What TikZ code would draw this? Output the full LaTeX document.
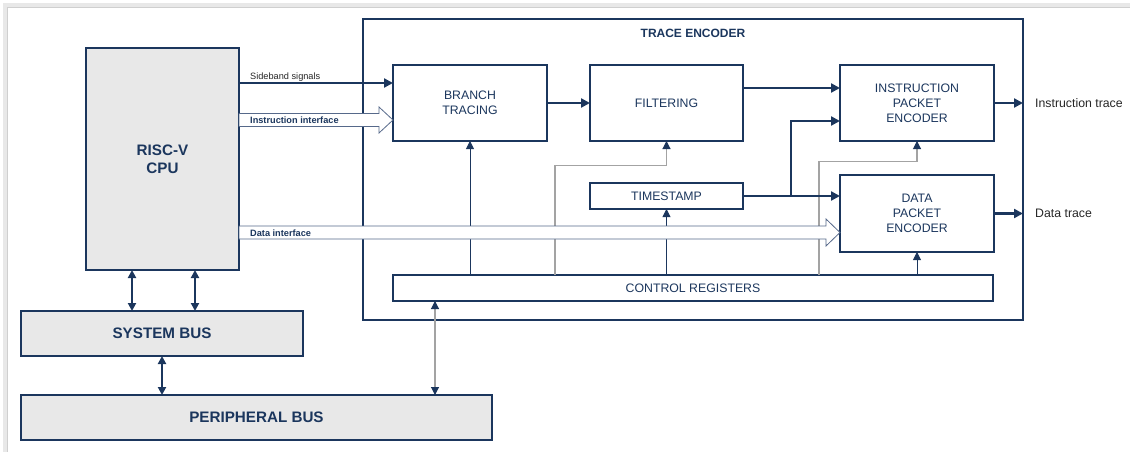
\documentclass[tikz,border=0pt]{standalone}
\usepackage{fontspec}
\setmainfont{Liberation Sans}
\usetikzlibrary{arrows.meta,calc}
\definecolor{navy}{HTML}{1B365D}
\definecolor{boxgray}{HTML}{E8E8E8}
\definecolor{wiregray}{HTML}{A3A3A3}
\definecolor{framegray}{HTML}{E8E8E8}
\definecolor{frameline}{HTML}{CFCFCF}
\definecolor{labelgray}{HTML}{262626}
\definecolor{arrowedge}{HTML}{56698A}

\begin{document}
\begin{tikzpicture}[x=1pt,y=-1pt,
  blk/.style={draw=navy, line width=1.8pt, fill=white, inner sep=0pt, outer sep=0pt,
    text=navy, align=center, font=\fontsize{12.3}{15}\selectfont},
  grayblk/.style={blk, fill=boxgray, font=\bfseries\fontsize{15.2}{18}\selectfont},
  thickarr/.style={draw=navy, line width=2.4pt, -{Triangle[length=9pt,width=9pt]}},
  thickdbl/.style={draw=navy, line width=2.4pt, {Triangle[length=8pt,width=8pt]}-{Triangle[length=8pt,width=8pt]}},
  thinarr/.style={draw=navy, line width=0.9pt, -{Triangle[length=8pt,width=8pt]}},
  grayarr/.style={draw=wiregray, line width=1.1pt, -{Triangle[length=8pt,width=8pt,color=navy]}},
  graydbl/.style={draw=wiregray, line width=1.1pt, {Triangle[length=8pt,width=8pt,color=navy]}-{Triangle[length=8pt,width=8pt,color=navy]}},
  blockarrow/.style={draw=arrowedge, line width=0.8pt, fill=white, line join=miter},
  smalllabel/.style={inner sep=0pt, anchor=base west, font=\fontsize{9.2}{11}\selectfont, text=labelgray},
  iflabel/.style={inner sep=0pt, anchor=base west, font=\bfseries\fontsize{9.2}{11}\selectfont, text=navy},
  outlabel/.style={inner sep=0pt, anchor=west, font=\fontsize{12.3}{15}\selectfont, text=labelgray}
]
\useasboundingbox (0,0) rectangle (1130,452);

% window edge
\fill[framegray] (3,3) rectangle (1130,7.5);
\fill[framegray] (3,3) rectangle (7.5,452);
\draw[frameline, line width=0.8pt] (1130,7.5) -- (7.5,7.5) -- (7.5,452);

% trace encoder frame
\node[draw=navy, line width=1.8pt, inner sep=0pt, outer sep=0pt,
      minimum width=660, minimum height=301] (te) at (693,169.5) {};
\node[font=\bfseries\fontsize{12}{14}\selectfont, text=navy] (tetitle) at (693,33) {TRACE ENCODER};

% CPU and buses
\node[grayblk, minimum width=153, minimum height=222] (cpu) at (162.5,159) {RISC-V\\CPU};
\node[grayblk, minimum width=282, minimum height=45] (sb) at (162,333.5) {SYSTEM BUS};
\node[grayblk, minimum width=471, minimum height=45] (pb) at (256.5,417.5) {PERIPHERAL BUS};

% encoder blocks
\node[blk, minimum width=154, minimum height=76] (bt) at (470,103) {BRANCH\\TRACING};
\node[blk, minimum width=153, minimum height=76] (fi) at (666.5,103) {FILTERING};
\node[blk, minimum width=154, minimum height=76] (ipe) at (917,103) {INSTRUCTION\\PACKET\\ENCODER};
\node[blk, minimum width=153, minimum height=26] (ts) at (666.5,196) {TIMESTAMP};
\node[blk, minimum width=154, minimum height=77] (dpe) at (917,213.5) {DATA\\PACKET\\ENCODER};
\node[blk, minimum width=600, minimum height=26] (cr) at (693,288) {CONTROL REGISTERS};

% control register outputs
\draw[thinarr] (bt.south |- cr.north) -- (bt.south);
\draw[grayarr] (cr.north -| 555,0) -- (555,165.5) -| (fi.south);
\draw[thinarr] (ts.south |- cr.north) -- (ts.south);
\draw[grayarr] (cr.north -| 819,0) -- (819,161.5) -| (ipe.south);
\draw[thinarr] (dpe.south |- cr.north) -- (dpe.south);
\draw[graydbl] (pb.north -| 435,0) -- (cr.south -| 435,0);

% interface block arrows, laid over the wires they cross
\filldraw[blockarrow] (cpu.east |- 0,113.5) -- (379,113.5) -- (379,107)
  -- (bt.west |- 0,120) -- (379,133) -- (379,126.5) -- (cpu.east |- 0,126.5) -- cycle;
\filldraw[blockarrow] (cpu.east |- 0,226) -- (826,226) -- (826,219)
  -- (dpe.west |- 0,232.5) -- (826,246) -- (826,239) -- (cpu.east |- 0,239) -- cycle;
\node[iflabel] (lblinstr) at (250,123.5) {Instruction interface};
\node[iflabel] (lbldata) at (250,236) {Data interface};

% trace data path
\draw[thickarr] (cpu.east |- 0,83) -- (bt.west |- 0,83);
\node[smalllabel] (lblside) at (250,79.5) {Sideband signals};
\draw[thickarr] (bt.east) -- (fi.west);
\draw[thickarr] (fi.east |- 0,88) -- (ipe.west |- 0,88);
\draw[thickarr] (ts.east) -- (ts.east -| dpe.west);
\coordinate (tsfork) at (791,196);
\draw[thickarr] (tsfork) |- (ipe.west |- 0,121);
\draw[thickarr] (ipe.east) -- (ipe.east -| te.east);
\draw[thickarr] (dpe.east) -- (dpe.east -| te.east);
\node[outlabel] (itrace) at (1035,103) {Instruction trace};
\node[outlabel] (dtrace) at (1035,213.5) {Data trace};

% bus links
\draw[thickdbl] (cpu.south -| 132,0) -- (sb.north -| 132,0);
\draw[thickdbl] (cpu.south -| 195,0) -- (sb.north -| 195,0);
\draw[thickdbl] (sb.south -| 162,0) -- (pb.north -| 162,0);
\end{tikzpicture}
\end{document}
